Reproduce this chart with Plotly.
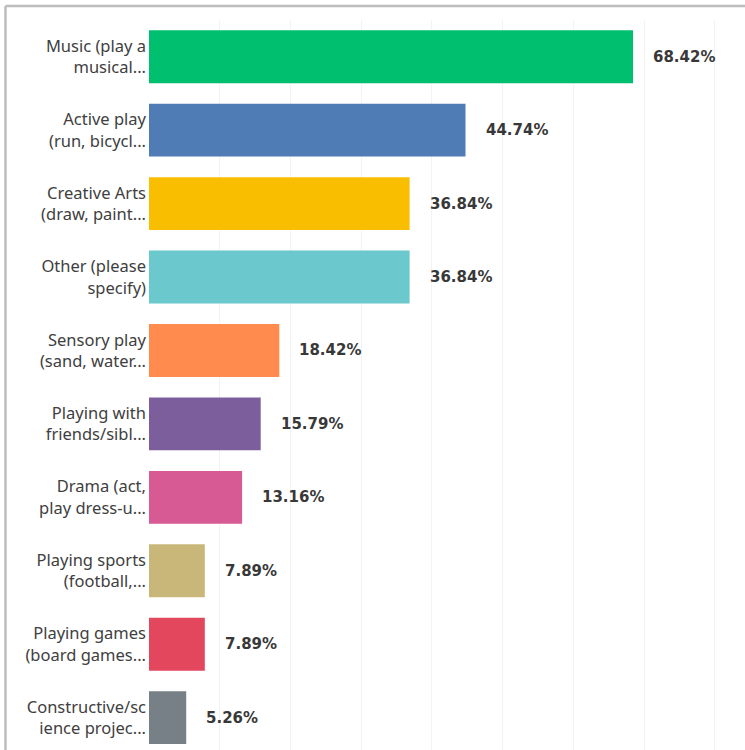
import plotly.graph_objects as go

# Survey answers (truncated the way the survey tool shows them)
categories = [
    "Music (play a<br>musical...",
    "Active play<br>(run, bicycl...",
    "Creative Arts<br>(draw, paint...",
    "Other (please<br>specify)",
    "Sensory play<br>(sand, water...",
    "Playing with<br>friends/sibl...",
    "Drama (act,<br>play dress-u...",
    "Playing sports<br>(football,...",
    "Playing games<br>(board games...",
    "Constructive/sc<br>ience projec...",
]
percentages = [68.42, 44.74, 36.84, 36.84, 18.42, 15.79, 13.16, 7.89, 7.89, 5.26]
bar_colors = [
    "#00BF6F", "#507CB6", "#F9BE00", "#6BC8CD", "#FF8B4F",
    "#7D5E9C", "#D85A94", "#C9B77A", "#E2475E", "#768086",
]

positions = list(range(len(categories)))

fig = go.Figure(
    go.Bar(
        x=percentages,
        y=positions,
        orientation="h",
        marker=dict(color=bar_colors, line=dict(width=0)),
        width=0.72,
        hoverinfo="skip",
    )
)

# value labels to the right of each bar
for pos, val in zip(positions, percentages):
    fig.add_annotation(
        x=val, y=pos, xref="x", yref="y",
        text=f"{val:.2f}%",
        showarrow=False, xanchor="left", yanchor="middle", xshift=18,
        font=dict(family="DejaVu Sans", size=15, color="#383838", weight="bold"),
    )

# plot area spans x 149..745 px and y 20..750 px
px_left, px_w = 149, 596
px_top, px_h = 20, 730

def paper_x(px):
    return (px - px_left) / px_w

def paper_y(py):
    return 1 - (py - px_top) / px_h

frame = dict(color="#BDBDBD", width=2.5)
fig.add_shape(type="line", xref="paper", yref="paper",
              x0=paper_x(5.5), x1=paper_x(760), y0=paper_y(6), y1=paper_y(6), line=frame)
fig.add_shape(type="line", xref="paper", yref="paper",
              x0=paper_x(5.5), x1=paper_x(5.5), y0=paper_y(6), y1=paper_y(760), line=frame)

fig.update_layout(
    width=745,
    height=750,
    margin=dict(l=px_left, r=0, t=px_top, b=0),
    paper_bgcolor="white",
    plot_bgcolor="white",
    showlegend=False,
    xaxis=dict(
        range=[0, 84.25],
        dtick=10,
        showgrid=True,
        gridcolor="#F3F3F3",
        gridwidth=1,
        zeroline=False,
        showticklabels=False,
        ticks="",
        fixedrange=True,
    ),
    yaxis=dict(
        range=[9.44, -0.5],
        tickmode="array",
        tickvals=positions,
        ticktext=categories,
        ticks="",
        ticklabelstandoff=2,
        showgrid=False,
        zeroline=False,
        tickfont=dict(family="Noto Sans", size=16.5, color="#404040"),
        fixedrange=True,
    ),
)

fig.write_html("out.html")
